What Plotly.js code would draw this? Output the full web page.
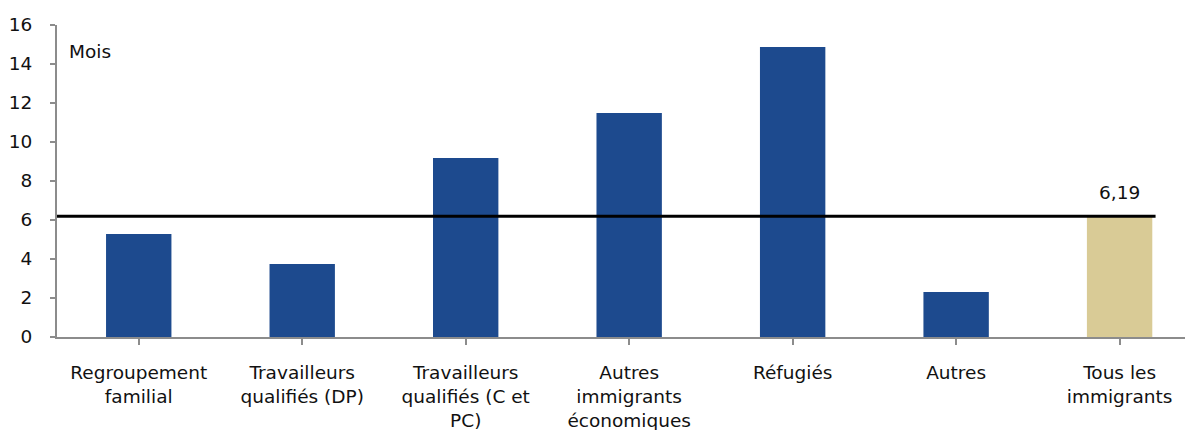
<!DOCTYPE html>
<html>
<head>
<meta charset="utf-8">
<script src="https://cdn.plot.ly/plotly-3.0.1.min.js"></script>
<style>
  html, body { margin: 0; padding: 0; background: #ffffff; }
  #chart { width: 1185px; height: 430px; }
</style>
</head>
<body>
<div id="chart"></div>
<script>
// Délai moyen (en mois) par catégorie d'immigrants
const categories = [
  "Regroupement<br>familial",
  "Travailleurs<br>qualifiés (DP)",
  "Travailleurs<br>qualifiés (C et<br>PC)",
  "Autres<br>immigrants<br>économiques",
  "Réfugiés",
  "Autres",
  "Tous les<br>immigrants"
];
const months = [5.28, 3.74, 9.18, 11.49, 14.87, 2.31, 6.19];
const barColors = ["#1D4A8E", "#1D4A8E", "#1D4A8E", "#1D4A8E", "#1D4A8E", "#1D4A8E", "#D9CB96"];
const averageMonths = 6.19;
const averageLabel = "6,19";
const yTicks = [0, 2, 4, 6, 8, 10, 12, 14, 16];

const xIdx = categories.map((_, i) => i);
const font = { family: "DejaVu Sans, Verdana, sans-serif", size: 18.5, color: "#111111" };

const trace = {
  type: "bar",
  x: xIdx,
  y: months,
  width: 0.4,
  marker: { color: barColors, line: { width: 0 } },
  hoverinfo: "skip"
};

const layout = {
  width: 1185,
  height: 430,
  margin: { l: 57, r: 0, t: 25, b: 93 },
  paper_bgcolor: "#ffffff",
  plot_bgcolor: "#ffffff",
  showlegend: false,
  font: font,
  xaxis: {
    range: [-0.5, 6.4],
    tickmode: "array",
    tickvals: xIdx,
    ticktext: categories,
    tickson: "boundaries",
    ticks: "outside",
    ticklen: 6,
    tickwidth: 2,
    tickcolor: "#8c8c8c",
    ticklabelstandoff: 12,
    showline: true,
    linecolor: "#8c8c8c",
    linewidth: 2,
    showgrid: false,
    zeroline: false,
    tickfont: font,
    fixedrange: true
  },
  yaxis: {
    range: [0, 16],
    tickmode: "array",
    tickvals: yTicks,
    ticks: "outside",
    ticklen: 5,
    tickwidth: 2,
    tickcolor: "#8c8c8c",
    ticklabelstandoff: 14,
    showline: true,
    linecolor: "#8c8c8c",
    linewidth: 2,
    showgrid: false,
    zeroline: false,
    tickfont: font,
    fixedrange: true
  },
  shapes: [{
    type: "line",
    xref: "x", yref: "y",
    x0: -0.5, x1: 6.22,
    y0: averageMonths, y1: averageMonths,
    line: { color: "#000000", width: 3 }
  }],
  annotations: [
    {
      xref: "paper", yref: "paper",
      x: 0.009, y: 0.915,
      xanchor: "left", yanchor: "middle",
      text: "Mois",
      showarrow: false,
      font: font
    },
    {
      xref: "x", yref: "y",
      x: xIdx[6], y: averageMonths,
      xanchor: "center", yanchor: "bottom",
      yshift: 11,
      text: averageLabel,
      showarrow: false,
      font: font
    }
  ]
};

Plotly.newPlot("chart", [trace], layout, { displayModeBar: false, staticPlot: true });
</script>
</body>
</html>
